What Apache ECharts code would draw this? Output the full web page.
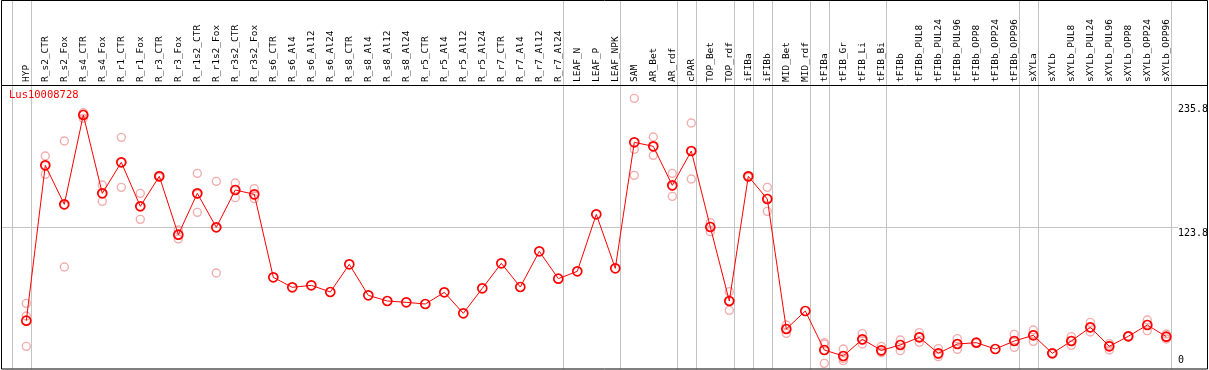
<!DOCTYPE html>
<html><head><meta charset="utf-8">
<script src="https://cdn.jsdelivr.net/npm/echarts@6/dist/echarts.min.js"></script>
<style>html,body{margin:0;padding:0;background:#fff}#c{width:1209px;height:370px}</style>
</head><body><div id="c"></div>
<script>
const geneId = 'Lus10008728';
const categories = ['HYP','R_s2_CTR','R_s2_Fox','R_s4_CTR','R_s4_Fox','R_r1_CTR','R_r1_Fox','R_r3_CTR','R_r3_Fox','R_r1s2_CTR','R_r1s2_Fox','R_r3s2_CTR','R_r3s2_Fox','R_s6_CTR','R_s6_Al4','R_s6_Al12','R_s6_Al24','R_s8_CTR','R_s8_Al4','R_s8_Al12','R_s8_Al24','R_r5_CTR','R_r5_Al4','R_r5_Al12','R_r5_Al24','R_r7_CTR','R_r7_Al4','R_r7_Al12','R_r7_Al24','LEAF_N','LEAF_P','LEAF_NPK','SAM','AR_Bet','AR_rdf','cPAR','TOP_Bet','TOP_rdf','iFIBa','iFIBb','MID_Bet','MID_rdf','tFIBa','tFIB_Gr','tFIB_Li','tFIB_Bi','tFIBb','tFIBb_PUL8','tFIBb_PUL24','tFIBb_PUL96','tFIBb_OPP8','tFIBb_OPP24','tFIBb_OPP96','sXYLa','sXYLb','sXYLb_PUL8','sXYLb_PUL24','sXYLb_PUL96','sXYLb_OPP8','sXYLb_OPP24','sXYLb_OPP96'];
const meanValues = [39.9,179.7,144.6,225.0,154.5,182.4,142.8,169.8,117.3,154.5,123.9,157.5,153.6,78.9,69.9,71.7,65.7,90.6,62.7,57.6,56.4,54.9,65.4,46.5,69.0,91.5,70.2,102.3,77.7,84.3,135.6,87.0,200.4,196.8,161.7,192.6,124.2,57.6,169.8,149.4,32.4,48.6,13.5,8.1,23.1,13.2,18.0,24.9,10.5,18.9,20.1,14.4,21.6,26.7,10.5,21.6,33.9,16.8,25.8,36.0,25.5];
const replicateValues = [
  [55.5,44.1,16.8],[188.1,171.6,179.4],[201.6,88.2,144.0],[227.1,222.0,225.9],[162.0,147.3,154.2],
  [204.9,159.9,182.4],[154.5,131.1,142.8],[168.9,170.7,169.8],[121.5,113.4,117.0],[172.5,137.4,153.6],
  [165.3,82.8,123.6],[163.8,150.6,158.1],[158.7,149.7,152.4],
  [],[],[],[],[],[],[],[],[],[],[],[],[],[],[],[],[],[],[],
  [240.0,194.1,170.7],[205.2,188.7,196.5],[172.5,151.8,160.8],[217.8,167.4,192.6],[128.1,120.0,124.5],
  [66.0,49.2,57.6],[168.9,170.4,169.2],[159.9,138.3,150.0],[36.0,28.5,32.7],[],
  [20.1,1.5,18.9],[14.4,3.9,6.0],[28.2,18.9,22.2],[16.8,11.7,11.1],[22.5,12.9,18.6],
  [29.1,20.4,25.2],[14.7,7.5,9.3],[23.7,14.1,18.9],[20.1,20.4,19.8],[],[27.6,15.9,21.3],
  [31.5,21.3,27.3],[10.5,10.8,10.2],[25.5,17.7,21.6],[38.4,29.7,33.6],[19.2,13.5,17.7],
  [25.8,26.1,25.5],[40.5,30.9,36.6],[27.9,23.4,25.2]
];
const yTickValues = [0, 123.8, 235.8];
const yTickLabels = ['0', '123.8', '235.8'];
const groupEndIndices = [-1,0,28,31,34,35,37,38,39,41,42,45,52,53,60];

const FONT = 'DejaVu Sans Mono';
const RED = '#ff0000';
const PINK = '#f09898';
const GRAY = '#c4c4c4';

const repData = [];
replicateValues.forEach((arr, i) => arr.forEach(v => repData.push([i, v])));

const chart = echarts.init(document.getElementById('c'), null, {renderer: 'canvas'});
chart.setOption({
  animation: false,
  backgroundColor: '#fff',
  title: {text: geneId, left: 9, top: 90, padding: 0,
    textStyle: {color: RED, fontFamily: FONT, fontSize: 10.5, fontWeight: 'normal'}},
  grid: {left: 16.8, right: 33.2, top: 85, bottom: 1, containLabel: false},
  xAxis: {type: 'category', position: 'top', data: categories, boundaryGap: true,
    axisLine: {show: false}, axisTick: {show: false}, splitLine: {show: false},
    axisLabel: {rotate: 90, interval: 0, margin: 3, color: '#000', fontFamily: FONT, fontSize: 9.5}},
  yAxis: {type: 'value', min: -3.6, max: 252, show: false, splitLine: {show: false}},
  series: [
    {type: 'scatter', data: repData, symbol: 'circle', symbolSize: 8,
      itemStyle: {color: 'rgba(0,0,0,0)', borderColor: PINK, borderWidth: 1.4},
      emphasis: {disabled: true}, z: 2},
    {type: 'line', data: meanValues, symbol: 'circle', symbolSize: 9, showAllSymbol: true,
      lineStyle: {color: RED, width: 1},
      itemStyle: {color: 'rgba(0,0,0,0)', borderColor: RED, borderWidth: 1.7},
      emphasis: {disabled: true}, z: 3}
  ]
});

const x0 = chart.convertToPixel({xAxisIndex: 0}, categories[0]);
const x1 = chart.convertToPixel({xAxisIndex: 0}, categories[1]);
const step = x1 - x0;
const gfx = [];
groupEndIndices.forEach(k => {
  const x = Math.round(x0 + step * k + 4.5) + 0.5;
  gfx.push({type: 'line', shape: {x1: x, y1: 0, x2: x, y2: 369}, style: {stroke: GRAY, lineWidth: 1}, z: 0});
});
const yMid = Math.round(chart.convertToPixel({yAxisIndex: 0}, yTickValues[1])) + 0.5;
gfx.push({type: 'line', shape: {x1: 1, y1: yMid, x2: 1178, y2: yMid}, style: {stroke: GRAY, lineWidth: 1}, z: 0});
yTickValues.forEach((v, i) => {
  const y = chart.convertToPixel({yAxisIndex: 0}, v);
  gfx.push({type: 'text', x: 1178, y: i === 0 ? y : y + 1,
    style: {text: yTickLabels[i], fill: '#000', font: '10px ' + FONT,
      textVerticalAlign: i === 0 ? 'bottom' : 'top', textAlign: 'left'}, z: 5});
});
gfx.push({type: 'rect', shape: {x: 1.5, y: 0.5, width: 1206, height: 368.5}, style: {fill: 'none', stroke: '#000', lineWidth: 1}, z: 4});
gfx.push({type: 'line', shape: {x1: 1, y1: 85.5, x2: 1207, y2: 85.5}, style: {stroke: '#000', lineWidth: 1}, z: 4});
chart.setOption({graphic: gfx});
</script></body></html>
